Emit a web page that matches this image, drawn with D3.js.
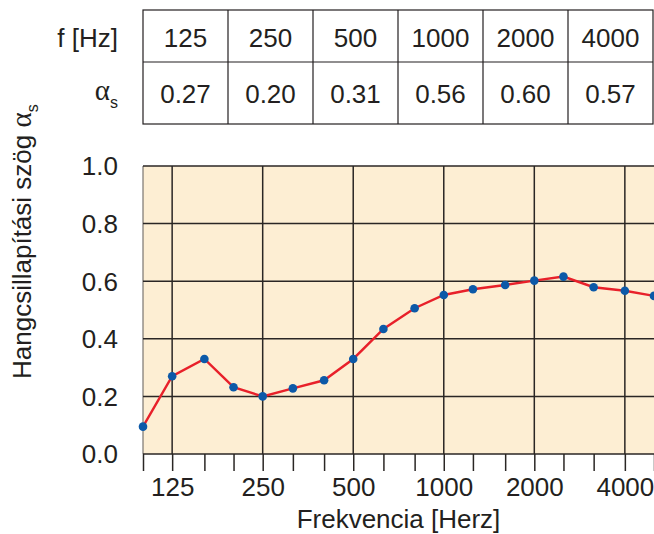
<!DOCTYPE html>
<html>
<head>
<meta charset="utf-8">
<script src="https://cdn.jsdelivr.net/npm/d3@7"></script>
<style>
  body { margin: 0; background: #fff; }
  text { font-family: "Liberation Sans", Arial, sans-serif; fill: #231f20; }
</style>
</head>
<body>
<svg id="chart" width="654" height="534"></svg>
<script>
// third-octave measurement points
var freqs = [100, 125, 160, 200, 250, 315, 400, 500, 630, 800, 1000, 1250, 1600, 2000, 2500, 3150, 4000, 5000];
var alpha = [0.095, 0.27, 0.33, 0.232, 0.20, 0.228, 0.256, 0.33, 0.434, 0.506, 0.552, 0.572, 0.587, 0.602, 0.616, 0.579, 0.567, 0.549];

// octave table
var octaves = [125, 250, 500, 1000, 2000, 4000];
var octAlpha = ["0.27", "0.20", "0.31", "0.56", "0.60", "0.57"];

var yTicks = [0, 0.2, 0.4, 0.6, 0.8, 1.0];

var svg = d3.select("#chart");

var x = d3.scaleLog().domain([100, 5000]).range([143, 654]);
var y = d3.scaleLinear().domain([0, 1]).range([454, 166]);

// ---- table ----
var tab = { left: 143, top: 10, mid: 62, bottom: 124, colW: 85 };
var table = svg.append("g");

table.append("rect")
    .attr("x", tab.left).attr("y", tab.top)
    .attr("width", tab.colW * octaves.length).attr("height", tab.bottom - tab.top)
    .attr("fill", "none").attr("stroke", "#231f20").attr("stroke-width", 1.2);
table.append("line")
    .attr("x1", tab.left).attr("x2", tab.left + tab.colW * octaves.length)
    .attr("y1", tab.mid).attr("y2", tab.mid)
    .attr("stroke", "#231f20").attr("stroke-width", 1.2);
table.selectAll("line.col")
    .data(d3.range(1, octaves.length))
    .enter().append("line")
    .attr("class", "col")
    .attr("x1", function(i) { return tab.left + i * tab.colW; })
    .attr("x2", function(i) { return tab.left + i * tab.colW; })
    .attr("y1", tab.top).attr("y2", tab.bottom)
    .attr("stroke", "#231f20").attr("stroke-width", 1.2);

table.selectAll("text.freq")
    .data(octaves)
    .enter().append("text")
    .attr("class", "freq")
    .attr("x", function(d, i) { return tab.left + (i + 0.5) * tab.colW; })
    .attr("y", 47)
    .attr("text-anchor", "middle")
    .style("font-size", "26px")
    .text(function(d) { return d; });

table.selectAll("text.alpha")
    .data(octAlpha)
    .enter().append("text")
    .attr("class", "alpha")
    .attr("x", function(d, i) { return tab.left + (i + 0.5) * tab.colW; })
    .attr("y", 103)
    .attr("text-anchor", "middle")
    .style("font-size", "26px")
    .text(function(d) { return d; });

table.append("text")
    .attr("x", 118).attr("y", 47)
    .attr("text-anchor", "end")
    .style("font-size", "26px")
    .text("f [Hz]");

var rowLbl = table.append("text")
    .attr("x", 118).attr("y", 100)
    .attr("text-anchor", "end");
rowLbl.append("tspan")
    .style("font-family", "'Liberation Serif', serif")
    .style("font-size", "29px")
    .text("α");
rowLbl.append("tspan").attr("dy", 8).style("font-size", "16px").text("s");

// ---- plot area ----
var plot = svg.append("g");

plot.append("rect")
    .attr("x", x(100)).attr("y", y(1))
    .attr("width", x(5000) - x(100)).attr("height", y(0) - y(1))
    .attr("fill", "#fdeed3");

plot.append("line")
    .attr("x1", x(100)).attr("x2", x(100))
    .attr("y1", y(1)).attr("y2", y(0))
    .attr("stroke", "#7a7570").attr("stroke-width", 1.2);

plot.selectAll("line.hgrid")
    .data(yTicks)
    .enter().append("line")
    .attr("class", "hgrid")
    .attr("x1", x(100)).attr("x2", x(5000))
    .attr("y1", function(d) { return y(d); })
    .attr("y2", function(d) { return y(d); })
    .attr("stroke", "#2a2624").attr("stroke-width", 1.5);

plot.selectAll("line.vgrid")
    .data(octaves)
    .enter().append("line")
    .attr("class", "vgrid")
    .attr("x1", function(d) { return x(d); })
    .attr("x2", function(d) { return x(d); })
    .attr("y1", y(1)).attr("y2", y(0))
    .attr("stroke", "#2a2624").attr("stroke-width", 1.5);

// x axis: tick at every third-octave, labels only on octaves
var xAxis = plot.append("g")
    .attr("transform", "translate(0," + y(0) + ")")
    .call(d3.axisBottom(x)
        .tickValues(freqs)
        .tickSize(17)
        .tickPadding(7)
        .tickFormat(function(d) { return octaves.indexOf(d) >= 0 ? d : ""; }));
xAxis.select(".domain").remove();
xAxis.selectAll(".tick line").attr("stroke", "#2a2624").attr("stroke-width", 1.5);
xAxis.selectAll(".tick text")
    .style("font-size", "26px")
    .style("font-family", "'Liberation Sans', Arial, sans-serif")
    .attr("fill", "#231f20");

// y tick labels
plot.selectAll("text.ylab")
    .data(yTicks)
    .enter().append("text")
    .attr("class", "ylab")
    .attr("x", 118)
    .attr("y", function(d) { return y(d); })
    .attr("dy", "0.36em")
    .attr("text-anchor", "end")
    .style("font-size", "26px")
    .text(function(d) { return d.toFixed(1); });

// curve
var line = d3.line()
    .x(function(d, i) { return x(freqs[i]); })
    .y(function(d) { return y(d); });

plot.append("path")
    .datum(alpha)
    .attr("d", line)
    .attr("fill", "none")
    .attr("stroke", "#e8202a")
    .attr("stroke-width", 2.4);

plot.selectAll("circle")
    .data(alpha)
    .enter().append("circle")
    .attr("cx", function(d, i) { return x(freqs[i]); })
    .attr("cy", function(d) { return y(d); })
    .attr("r", 4.3)
    .attr("fill", "#0c59a8");

// axis titles
svg.append("text")
    .attr("x", (x(100) + x(5000)) / 2)
    .attr("y", 528)
    .attr("text-anchor", "middle")
    .style("font-size", "26px")
    .text("Frekvencia [Herz]");

var yTitle = svg.append("text")
    .attr("transform", "translate(31,379) rotate(-90)")
    .attr("text-anchor", "start")
    .style("font-size", "26px");
yTitle.append("tspan").text("Hangcsillapítási szög ");
yTitle.append("tspan")
    .style("font-family", "'Liberation Serif', serif")
    .style("font-size", "29px")
    .text("α");
yTitle.append("tspan").attr("dy", 7).style("font-size", "16px").text("s");
</script>
</body>
</html>
